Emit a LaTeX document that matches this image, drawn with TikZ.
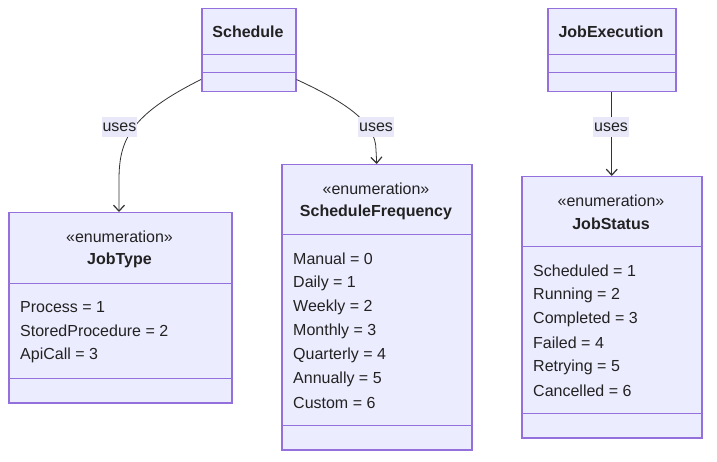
\documentclass[tikz,border=0pt]{standalone}
\usepackage{fontspec}
\setmainfont{Liberation Sans}
\usetikzlibrary{arrows.meta}
\definecolor{boxfill}{HTML}{ECECFF}
\definecolor{boxdraw}{HTML}{9370DB}
\definecolor{txt}{HTML}{222222}
\definecolor{edge}{HTML}{333333}
\definecolor{lblfill}{HTML}{E8E8F8}
\tikzset{
  box/.style={draw=boxdraw, fill=boxfill, line width=1.5pt, anchor=north west, inner sep=0pt},
  divider/.style={draw=boxdraw, line width=1pt},
  title/.style={font=\fontsize{16}{19}\selectfont\bfseries, text=txt, inner sep=0pt, anchor=center, yshift=-1pt},
  stereo/.style={font=\fontsize{16}{19}\selectfont, text=txt, inner sep=0pt, anchor=center, yshift=-1pt},
  attr/.style={font=\fontsize{16}{19}\selectfont, text=txt, inner sep=0pt, anchor=west, yshift=-1pt},
  conn/.style={draw=edge, line width=0.8pt, -{Straight Barb[length=6pt,width=11pt,line width=1.2pt]}},
  lbl/.style={fill=lblfill, font=\fontsize{16}{19}\selectfont, text=txt, inner xsep=1pt, text height=12pt, text depth=3.5pt, inner ysep=2pt}
}
\begin{document}
\begin{tikzpicture}[x=1pt,y=-1pt]
\path[use as bounding box, fill=white] (0,0) rectangle (717,462);

% Schedule
\node[box, minimum width=94pt, minimum height=83pt] (sched) at (201,8) {};
\draw[divider] (201,55) -- (295,55);
\draw[divider] (201,73) -- (295,73);
\node[title] (schedt) at (248,31) {Schedule};

% JobExecution
\node[box, minimum width=128pt, minimum height=83pt] (jobex) at (547,8) {};
\draw[divider] (547,55) -- (675,55);
\draw[divider] (547,73) -- (675,73);
\node[title] (jobext) at (611,31) {JobExecution};

% JobType
\node[box, minimum width=223pt, minimum height=190pt] (jobtype) at (8,212) {};
\draw[divider] (8,283) -- (231,283);
\draw[divider] (8,378) -- (231,378);
\node[stereo] (jts) at (119.5,236) {«enumeration»};
\node[title] (jtt) at (119.5,259) {JobType};
\node[attr] (jt1) at (20,306) {Process = 1};
\node[attr] (jt2) at (20,330) {StoredProcedure = 2};
\node[attr] (jt3) at (20,354) {ApiCall = 3};

% ScheduleFrequency
\node[box, minimum width=190pt, minimum height=285pt] (sfreq) at (281,164) {};
\draw[divider] (281,235) -- (471,235);
\draw[divider] (281,425) -- (471,425);
\node[stereo] (sfs) at (376,188) {«enumeration»};
\node[title] (sft) at (376,211) {ScheduleFrequency};
\node[attr] (sf1) at (293,258) {Manual = 0};
\node[attr] (sf2) at (293,282) {Daily = 1};
\node[attr] (sf3) at (293,306) {Weekly = 2};
\node[attr] (sf4) at (293,330) {Monthly = 3};
\node[attr] (sf5) at (293,354) {Quarterly = 4};
\node[attr] (sf6) at (293,378) {Annually = 5};
\node[attr] (sf7) at (293,402) {Custom = 6};

% JobStatus
\node[box, minimum width=180pt, minimum height=261pt] (jstat) at (521,176) {};
\draw[divider] (521,247) -- (701,247);
\draw[divider] (521,413) -- (701,413);
\node[stereo] (jss) at (611,200) {«enumeration»};
\node[title] (jst) at (611,223) {JobStatus};
\node[attr] (js1) at (533,270) {Scheduled = 1};
\node[attr] (js2) at (533,294) {Running = 2};
\node[attr] (js3) at (533,318) {Completed = 3};
\node[attr] (js4) at (533,342) {Failed = 4};
\node[attr] (js5) at (533,366) {Retrying = 5};
\node[attr] (js6) at (533,390) {Cancelled = 6};

% connectors
\draw[conn] ([yshift=13pt]sched.south west) .. controls (130,115) and (119,140) .. (119,180) -- (jobtype.north west -| 119,0);
\draw[conn] ([yshift=13pt]sched.south east) .. controls (345,102) and (376,122) .. (376,150) -- (sfreq.north);
\draw[conn] (jobex.south) -- (jstat.north);

% labels
\node[lbl] (l1) at (119.5,127) {uses};
\node[lbl] (l2) at (376,127) {uses};
\node[lbl] (l3) at (611,127) {uses};
\end{tikzpicture}
\end{document}
